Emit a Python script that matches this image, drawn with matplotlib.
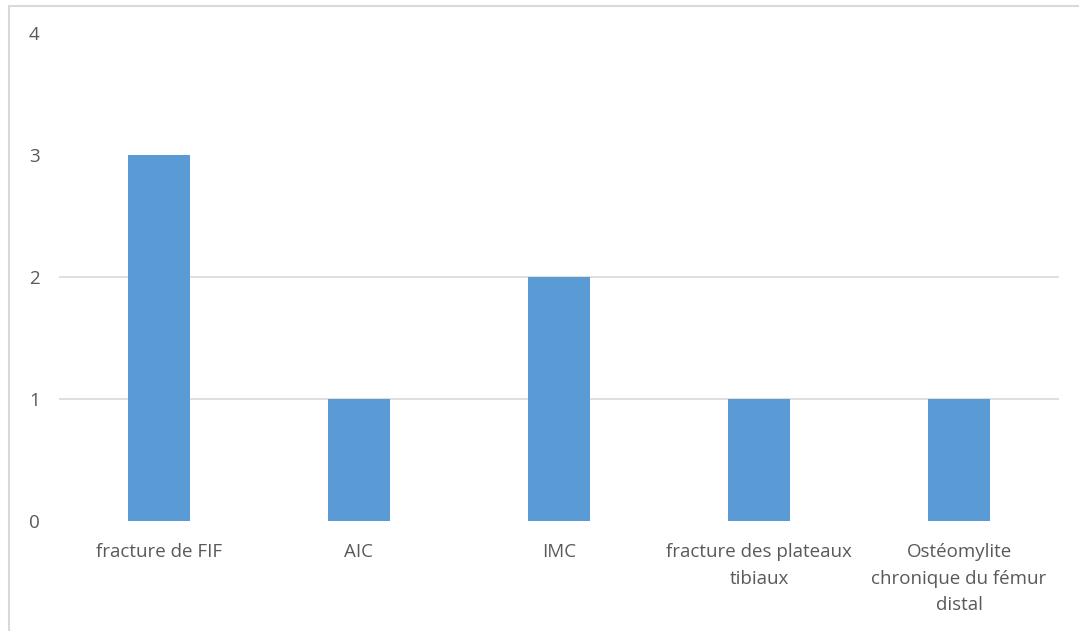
import matplotlib
matplotlib.use("Agg")
import matplotlib.pyplot as plt
from matplotlib.patches import Rectangle

categories = [
    "fracture de FIF",
    "AIC",
    "IMC",
    "fracture des plateaux\ntibiaux",
    "Ostéomylite\nchronique du fémur\ndistal",
]
values = [3, 1, 2, 1, 1]
y_ticks = [0, 1, 2, 3, 4]

W, H = 1079, 631
fig = plt.figure(figsize=(W / 100, H / 100), dpi=100)
fig.patch.set_facecolor("white")

# chart frame (runs off the right and bottom edges)
fig.patches.append(Rectangle((9 / W, -0.05), 1.2, 1 - 6 / H + 0.05,
                             transform=fig.transFigure, fill=False,
                             edgecolor="#d9d9d9", linewidth=1.5))

ax = fig.add_axes([59 / W, 1 - 521 / H, 1000 / W, (521 - 33) / H])
x = range(len(categories))
ax.bar(x, values, width=0.31, color="#5B9BD5", zorder=3)
ax.set_xlim(-0.5, len(categories) - 0.5)
ax.set_ylim(0, 4)
ax.set_yticks(y_ticks)
ax.set_yticklabels([str(t) for t in y_ticks])
ax.set_xticks(list(x))
ax.set_xticklabels(categories, linespacing=1.6)

for lvl in (1, 2):
    ax.axhline(lvl, xmin=0, xmax=1.003, color="#d9d9d9", linewidth=1.2, zorder=1)

for s in ax.spines.values():
    s.set_visible(False)
ax.tick_params(axis="both", length=0, colors="#595959", labelsize=13.5)
ax.tick_params(axis="x", pad=16)
ax.tick_params(axis="y", pad=14)
for lab in ax.get_xticklabels() + ax.get_yticklabels():
    lab.set_fontfamily("Open Sans")

fig.savefig("out.png", dpi=100, facecolor="white")
